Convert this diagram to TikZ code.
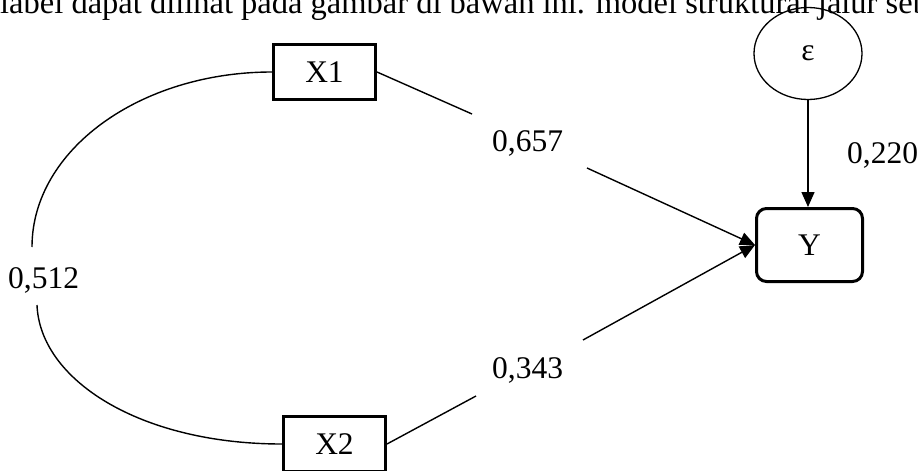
\documentclass[tikz,border=0pt]{standalone}
\usepackage{fontspec}
\setmainfont{Liberation Serif}
\usetikzlibrary{arrows.meta,shapes.geometric}
\begin{document}
\begin{tikzpicture}[x=1pt,y=-1pt,
  every node/.style={font=\fontsize{31.5}{37}\selectfont},
  varbox/.style={draw,line width=3pt,minimum width=102pt,minimum height=55pt,inner sep=0pt},
  endobox/.style={draw,line width=3pt,rounded corners=10pt,minimum width=106pt,minimum height=73pt,inner sep=0pt},
  errnode/.style={draw,ellipse,line width=1.3pt,minimum width=108pt,minimum height=92pt,inner sep=0pt},
  conn/.style={line width=1.4pt},
  arr/.style={conn,-{Triangle[length=15pt,width=13pt]}},
  lbl/.style={inner sep=0pt,anchor=base west}]
\useasboundingbox (0,0) rectangle (918,471);
\clip (0,0) rectangle (918,471);
\fill[white] (0,0) rectangle (918,471);
% cut-off caption text at the top
\node[lbl,font=\fontsize{32.5}{38}\selectfont] (cap) at (0,13) {label dapat dilihat pada gambar di bawah ini. model struktural jalur sebagai};
% nodes
\node[varbox] (x1) at (324.5,72) {X1};
\node[varbox] (x2) at (334.5,444) {X2};
\node[errnode] (eps) at (808,53.5) {ε};
\node[endobox] (y) at (809.5,245) {Y};
% labels
\node[lbl] (l657) at (492,151) {0,657};
\node[lbl] (l343) at (492,378) {0,343};
\node[lbl] (l512) at (8,288) {0,512};
\node[lbl] (l220) at (847,163) {0,220};
% gap coordinates
\coordinate (g1a) at (472,114);
\coordinate (g1b) at (587,168);
\coordinate (g2a) at (476,396);
\coordinate (g2b) at (583,340);
\coordinate (c1) at (32,247);
\coordinate (c2) at (37,305);
% connectors
\draw[conn] (x1.east) -- (g1a);
\draw[arr] (g1b) -- (y.west);
\draw[conn] (x2.east) -- (g2a);
\draw[arr] (g2b) -- (y.west);
\draw[arr] (eps.south) -- (eps.south |- y.north);
\draw[conn] (x1.west) .. controls (140,72) and (32,150) .. (c1);
\draw[conn] (c2) .. controls (40,380) and (140,444) .. (x2.west);
\end{tikzpicture}
\end{document}
